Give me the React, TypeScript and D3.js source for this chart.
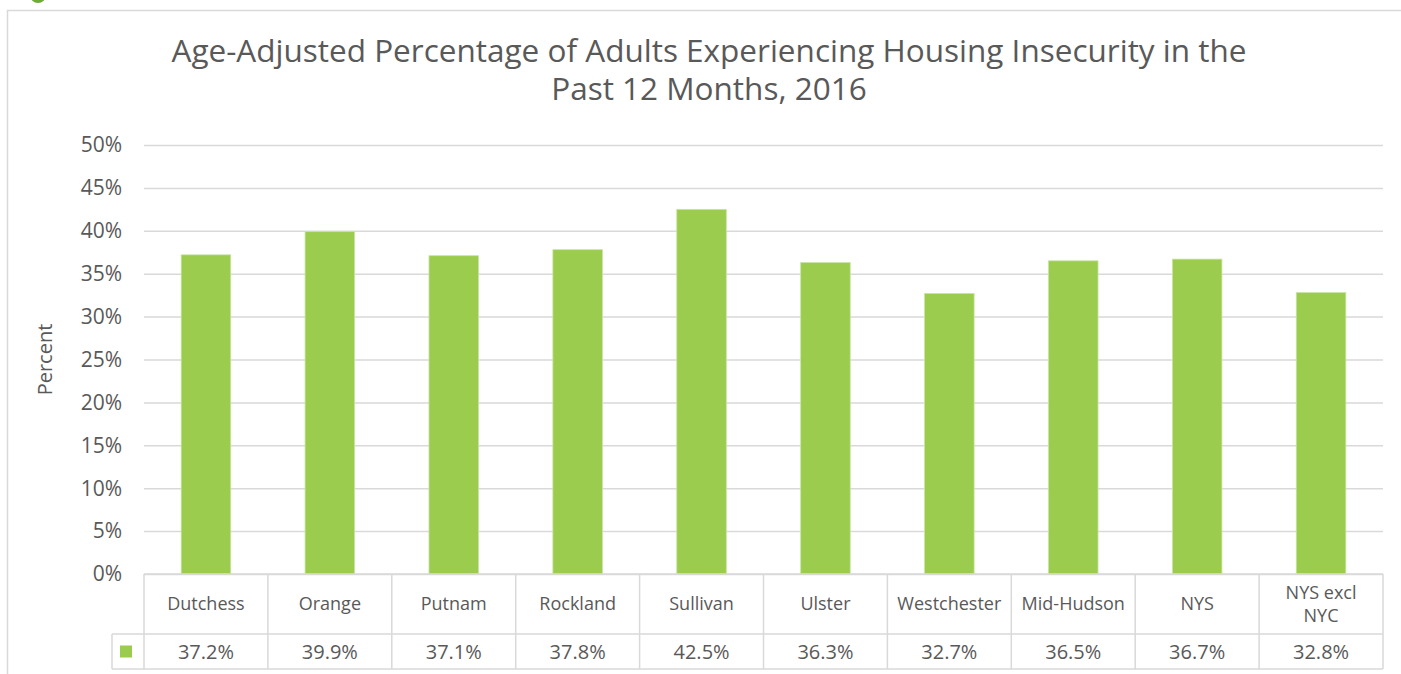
import React, { useEffect, useRef } from "react";
import * as d3 from "d3";

const title = [
  "Age-Adjusted Percentage of Adults Experiencing Housing Insecurity in the",
  "Past 12 Months, 2016",
];
const categories = [
  "Dutchess",
  "Orange",
  "Putnam",
  "Rockland",
  "Sullivan",
  "Ulster",
  "Westchester",
  "Mid-Hudson",
  "NYS",
  "NYS excl\nNYC",
];
const values = [37.2, 39.9, 37.1, 37.8, 42.5, 36.3, 32.7, 36.5, 36.7, 32.8];
const yTicks = [0, 5, 10, 15, 20, 25, 30, 35, 40, 45, 50];

const FONT = "'Open Sans', sans-serif";
const TEXT = "#595959";
const GRID = "#d9d9d9";
const BAR = "#9bcc4e";

export default function App() {
  const ref = useRef<SVGSVGElement>(null);

  useEffect(() => {
    const svg = d3.select(ref.current);
    svg.selectAll("*").remove();

    const width = 1401;
    const height = 674;
    const margin = { top: 145, right: 18, left: 144 };
    const plotBottom = 574;
    const headerH = 60;
    const valueH = 35;
    const legendW = 32;

    svg.attr("width", width).attr("height", height);

    // page decoration: frame + green marker
    svg
      .append("circle")
      .attr("cx", 38)
      .attr("cy", -5)
      .attr("r", 8)
      .attr("fill", "#6fab38");
    svg
      .append("path")
      .attr("d", `M7.5,${height} V10.5 H${width}`)
      .attr("fill", "none")
      .attr("stroke", GRID)
      .attr("stroke-width", 1.5);

    const x = d3
      .scaleBand()
      .domain(categories)
      .range([margin.left, width - margin.right])
      .paddingInner(0.6)
      .paddingOuter(0.3);

    const y = d3
      .scaleLinear()
      .domain([0, 50])
      .range([plotBottom, margin.top]);

    // title, one text per line
    svg
      .append("g")
      .attr("text-anchor", "middle")
      .attr("font-family", FONT)
      .attr("font-size", 31.5)
      .attr("fill", TEXT)
      .selectAll("text")
      .data(title)
      .join("text")
      .attr("x", 709)
      .attr("y", (d, i) => 62 + i * 38)
      .text((d) => d);

    // grid + y axis labels
    const gy = svg.append("g");
    gy.selectAll("line")
      .data(yTicks)
      .join("line")
      .attr("x1", margin.left)
      .attr("x2", width - margin.right)
      .attr("y1", (d) => y(d) + 0.5)
      .attr("y2", (d) => y(d) + 0.5)
      .attr("stroke", GRID)
      .attr("stroke-width", 1.5);
    gy.selectAll("text")
      .data(yTicks)
      .join("text")
      .attr("x", 122)
      .attr("y", (d) => y(d))
      .attr("dy", "0.35em")
      .attr("text-anchor", "end")
      .attr("font-family", FONT)
      .attr("font-size", 21)
      .attr("fill", TEXT)
      .text((d) => `${d}%`);

    svg
      .append("text")
      .attr("transform", `translate(45,${(margin.top + plotBottom) / 2}) rotate(-90)`)
      .attr("dy", "0.35em")
      .attr("text-anchor", "middle")
      .attr("font-family", FONT)
      .attr("font-size", 20)
      .attr("fill", TEXT)
      .text("Percent");

    // bars
    svg
      .append("g")
      .selectAll("rect")
      .data(values)
      .join("rect")
      .attr("x", (d, i) => x(categories[i])!)
      .attr("y", (d) => y(d))
      .attr("width", x.bandwidth())
      .attr("height", (d) => plotBottom - y(d))
      .attr("fill", BAR)
      .attr("stroke", "#c9e4a2")
      .attr("stroke-width", 0.8);

    // data table
    const step = x.step();
    const left = margin.left;
    const right = width - margin.right;
    const t = svg.append("g").attr("stroke", GRID).attr("stroke-width", 1.5).attr("fill", "none");
    const rowTop = plotBottom + headerH;
    const rowBot = rowTop + valueH;
    t.append("line").attr("x1", left).attr("x2", right).attr("y1", plotBottom).attr("y2", plotBottom);
    t.append("line").attr("x1", left - legendW).attr("x2", right).attr("y1", rowTop).attr("y2", rowTop);
    t.append("line").attr("x1", left - legendW).attr("x2", right).attr("y1", rowBot).attr("y2", rowBot);
    t.append("line").attr("x1", left - legendW).attr("x2", left - legendW).attr("y1", rowTop).attr("y2", rowBot);
    t.selectAll(".col")
      .data(d3.range(categories.length + 1))
      .join("line")
      .attr("class", "col")
      .attr("x1", (i) => left + i * step)
      .attr("x2", (i) => left + i * step)
      .attr("y1", plotBottom)
      .attr("y2", rowBot);

    // legend key
    svg
      .append("rect")
      .attr("x", left - legendW + 8)
      .attr("y", rowTop + valueH / 2 - 6)
      .attr("width", 12)
      .attr("height", 12)
      .attr("fill", BAR);

    const heads = svg
      .append("g")
      .attr("font-family", FONT)
      .attr("font-size", 18)
      .attr("fill", TEXT)
      .attr("text-anchor", "middle");
    categories.forEach((c, i) => {
      const lines = c.split("\n");
      const cx = left + (i + 0.5) * step;
      const mid = plotBottom + headerH / 2;
      const txt = heads.append("text");
      lines.forEach((ln, j) => {
        txt
          .append("tspan")
          .attr("x", cx)
          .attr("y", mid + (j - (lines.length - 1) / 2) * 23)
          .attr("dy", "0.35em")
          .text(ln);
      });
    });

    svg
      .append("g")
      .attr("font-family", FONT)
      .attr("font-size", 20)
      .attr("fill", TEXT)
      .attr("text-anchor", "middle")
      .selectAll("text")
      .data(values)
      .join("text")
      .attr("x", (d, i) => left + (i + 0.5) * step)
      .attr("y", rowTop + valueH / 2)
      .attr("dy", "0.35em")
      .text((d) => `${d.toFixed(1)}%`);
  }, []);

  return (
    <div style={{ position: "absolute", left: 0, top: 0 }}>
      <svg ref={ref} style={{ display: "block" }}></svg>
    </div>
  );
}
